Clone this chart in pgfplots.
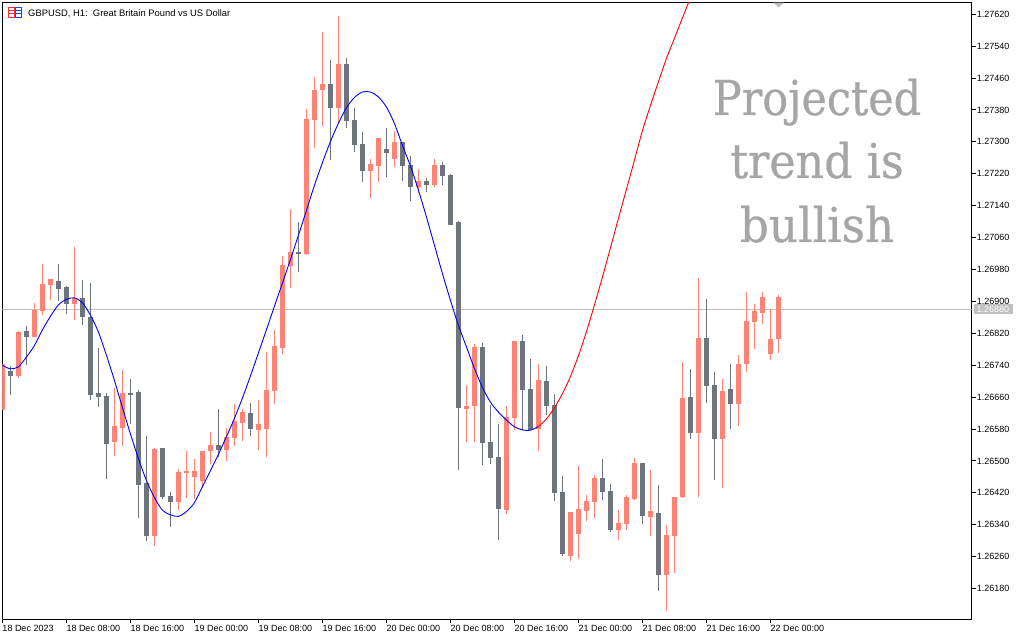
\documentclass[border=0pt]{standalone}
\usepackage{fontspec}
\setmainfont{Liberation Sans}
\newfontfamily\slabfont[FakeBold=0.6]{DejaVu Serif}
\usepackage{pgfplots}
\usepackage{pgfplotstable}
\pgfplotsset{compat=1.18}
\definecolor{upc}{HTML}{FF8374}
\definecolor{downc}{HTML}{6C757D}
\definecolor{hl}{HTML}{C0C0C0}
\definecolor{bigt}{HTML}{A6A6A6}
\pgfplotstableread{
i bot top low high
0 1.26628 1.26743 1.26628 1.26743
2 1.26713 1.26823 1.26708 1.26826
4 1.26811 1.26878 1.26811 1.26896
5 1.26876 1.26943 1.26866 1.26994
6 1.26941 1.26956 1.26903 1.26956
9 1.26893 1.26908 1.26853 1.27036
14 1.26547 1.26587 1.26512 1.26683
15 1.26582 1.26670 1.26537 1.26728
19 1.26311 1.26530 1.26286 1.26532
22 1.26397 1.26472 1.26377 1.26480
23 1.26470 1.26474 1.26407 1.26525
24 1.26459 1.26474 1.26404 1.26505
25 1.26449 1.26525 1.26432 1.26525
26 1.26525 1.26540 1.26492 1.26572
28 1.26527 1.26560 1.26500 1.26582
29 1.26557 1.26600 1.26537 1.26642
30 1.26595 1.26622 1.26550 1.26630
32 1.26578 1.26593 1.26527 1.26653
33 1.26580 1.26678 1.26510 1.26773
34 1.26675 1.26788 1.26643 1.26828
35 1.26783 1.26991 1.26768 1.27014
36 1.26989 1.27024 1.26934 1.27132
38 1.27019 1.27358 1.27016 1.27383
39 1.27355 1.27430 1.27285 1.27463
40 1.27430 1.27445 1.27340 1.27576
42 1.27385 1.27496 1.27347 1.27616
46 1.27227 1.27245 1.27160 1.27257
47 1.27240 1.27310 1.27200 1.27310
49 1.27257 1.27300 1.27237 1.27328
52 1.27187 1.27202 1.27172 1.27232
54 1.27192 1.27242 1.27187 1.27257
58 1.26630 1.26637 1.26547 1.26690
59 1.26637 1.26785 1.26547 1.26793
63 1.26377 1.26610 1.26367 1.26637
64 1.26607 1.26800 1.26577 1.26800
67 1.26580 1.26703 1.26525 1.26743
71 1.26261 1.26372 1.26249 1.26372
72 1.26316 1.26379 1.26254 1.26487
73 1.26374 1.26399 1.26349 1.26414
74 1.26397 1.26457 1.26357 1.26464
77 1.26326 1.26344 1.26301 1.26377
78 1.26341 1.26409 1.26326 1.26414
79 1.26405 1.26495 1.26402 1.26507
81 1.26359 1.26375 1.26312 1.26477
83 1.26214 1.26314 1.26124 1.26339
84 1.26312 1.26410 1.26219 1.26410
85 1.26410 1.26658 1.26407 1.26748
87 1.26570 1.26808 1.26410 1.26959
90 1.26555 1.26675 1.26432 1.26706
92 1.26643 1.26743 1.26588 1.26766
93 1.26743 1.26851 1.26723 1.26924
94 1.26849 1.26876 1.26781 1.26894
95 1.26871 1.26911 1.26844 1.26924
96 1.26768 1.26806 1.26753 1.26881
97 1.26806 1.26911 1.26771 1.26916
}\upcandles
\pgfplotstableread{
i bot top low high
1 1.26713 1.26725 1.26665 1.26738
3 1.26811 1.26826 1.26740 1.26838
7 1.26931 1.26951 1.26901 1.26994
8 1.26893 1.26936 1.26868 1.26938
10 1.26861 1.26908 1.26841 1.26953
11 1.26665 1.26861 1.26653 1.26946
12 1.26660 1.26670 1.26635 1.26783
13 1.26542 1.26663 1.26454 1.26670
16 1.26665 1.26670 1.26592 1.26705
17 1.26439 1.26673 1.26357 1.26678
18 1.26311 1.26444 1.26299 1.26562
20 1.26409 1.26532 1.26404 1.26532
21 1.26397 1.26412 1.26334 1.26422
27 1.26527 1.26540 1.26510 1.26630
31 1.26580 1.26620 1.26563 1.26645
37 1.27019 1.27024 1.26974 1.27099
41 1.27385 1.27445 1.27255 1.27506
43 1.27353 1.27496 1.27335 1.27511
44 1.27292 1.27355 1.27275 1.27385
45 1.27227 1.27295 1.27200 1.27325
48 1.27272 1.27282 1.27212 1.27335
50 1.27240 1.27300 1.27202 1.27300
51 1.27187 1.27242 1.27152 1.27265
53 1.27192 1.27202 1.27175 1.27210
55 1.27215 1.27242 1.27192 1.27250
56 1.27092 1.27217 1.27092 1.27220
57 1.26632 1.27099 1.26477 1.27101
60 1.26545 1.26785 1.26489 1.26795
61 1.26507 1.26547 1.26492 1.26640
62 1.26379 1.26509 1.26301 1.26592
65 1.26677 1.26800 1.26577 1.26815
66 1.26577 1.26680 1.26577 1.26755
68 1.26637 1.26700 1.26615 1.26738
69 1.26419 1.26640 1.26399 1.26667
70 1.26266 1.26422 1.26261 1.26462
75 1.26422 1.26457 1.26402 1.26504
76 1.26326 1.26424 1.26321 1.26442
80 1.26362 1.26495 1.26342 1.26495
82 1.26214 1.26370 1.26174 1.26440
86 1.26570 1.26660 1.26555 1.26731
88 1.26688 1.26808 1.26645 1.26906
89 1.26555 1.26691 1.26452 1.26723
91 1.26643 1.26680 1.26580 1.26743
}\downcandles
\pgfplotstableread{
i p
0 1.26740
1 1.26731
2 1.26736
3 1.26760
4 1.26789
5 1.26828
6 1.26862
7 1.26891
8 1.26905
9 1.26909
10 1.26897
11 1.26866
12 1.26824
13 1.26766
14 1.26703
15 1.26635
16 1.26569
17 1.26507
18 1.26452
19 1.26409
20 1.26377
21 1.26365
22 1.26361
23 1.26373
24 1.26395
25 1.26435
26 1.26475
27 1.26516
28 1.26560
29 1.26606
30 1.26657
31 1.26712
32 1.26770
33 1.26828
34 1.26887
35 1.26945
36 1.27004
37 1.27065
38 1.27127
39 1.27190
40 1.27247
41 1.27300
42 1.27346
43 1.27385
44 1.27411
45 1.27425
46 1.27425
47 1.27413
48 1.27388
49 1.27347
50 1.27292
51 1.27240
52 1.27180
53 1.27113
54 1.27042
55 1.26971
56 1.26904
57 1.26841
58 1.26787
59 1.26733
60 1.26685
61 1.26648
62 1.26623
63 1.26603
64 1.26586
65 1.26578
66 1.26577
67 1.26586
}\bluecurve
\pgfplotstableread{
i p
67 1.26586
68 1.26605
69 1.26633
70 1.26668
71 1.26711
72 1.26763
73 1.26823
74 1.26890
75 1.26960
76 1.27033
77 1.27107
78 1.27180
79 1.27253
80 1.27327
81 1.27390
82 1.27450
83 1.27508
84 1.27559
85 1.27610
86 1.27660
}\redcurve
\begin{document}
\begin{tikzpicture}
\useasboundingbox (0,0) rectangle (1024pt,640pt);
\begin{axis}[
  at={(2.3pt,20.7pt)},anchor=south west,
  scale only axis,width=969.4pt,height=617pt,
  xmin=0,xmax=121.175,ymin=1.26103,ymax=1.27650,
  axis line style={line width=1pt,black},
  tick align=outside,major tick length=4pt,
  every tick/.style={black,line width=1pt},
  xtick pos=bottom,ytick pos=right,
  yticklabel pos=right,
  tick label style={font=\fontsize{9}{9}\selectfont},
  xtick={0,8,16,24,32,40,48,56,64,72,80,88,96},
  xticklabels={18 Dec 2023,18 Dec 08:00,18 Dec 16:00,19 Dec 00:00,19 Dec 08:00,19 Dec 16:00,20 Dec 00:00,20 Dec 08:00,20 Dec 16:00,21 Dec 00:00,21 Dec 08:00,21 Dec 16:00,22 Dec 00:00},
  xticklabel style={anchor=north west,inner sep=0pt,yshift=-2pt},
  ytick={1.2618,1.2626,1.2634,1.2642,1.2650,1.2658,1.2666,1.2674,1.2682,1.2690,1.2698,1.2706,1.2714,1.2722,1.2730,1.2738,1.2746,1.2754,1.2762},
  yticklabels={1.26180,1.26260,1.26340,1.26420,1.26500,1.26580,1.26660,1.26740,1.26820,1.26900,1.26980,1.27060,1.27140,1.27220,1.27300,1.27380,1.27460,1.27540,1.27620},
  yticklabel style={anchor=west,inner sep=0pt,xshift=1pt},
  cndl/.style={draw=none,mark=none,forget plot},
]
\addplot[hl,line width=1pt,forget plot] coordinates {(0,1.26880) (121.175,1.26880)};
% wicks
\addplot[cndl,error bars/.cd,y dir=plus,y explicit,error mark=none,error bar style={line width=1pt,upc}]
  table[x=i,y=low,y error plus expr=\thisrow{high}-\thisrow{low}] {\upcandles};
\addplot[cndl,error bars/.cd,y dir=plus,y explicit,error mark=none,error bar style={line width=1pt,downc}]
  table[x=i,y=low,y error plus expr=\thisrow{high}-\thisrow{low}] {\downcandles};
% bodies
\addplot[cndl,error bars/.cd,y dir=plus,y explicit,error mark=none,error bar style={line width=5pt,upc}]
  table[x=i,y=bot,y error plus expr=\thisrow{top}-\thisrow{bot}] {\upcandles};
\addplot[cndl,error bars/.cd,y dir=plus,y explicit,error mark=none,error bar style={line width=5pt,downc}]
  table[x=i,y=bot,y error plus expr=\thisrow{top}-\thisrow{bot}] {\downcandles};
% projection
\addplot[blue,line width=0.9pt,smooth,tension=0.5,mark=none] table[x=i,y=p] {\bluecurve};
\addplot[red,line width=0.9pt,smooth,tension=0.5,mark=none] table[x=i,y=p] {\redcurve};
\end{axis}
% price label and last-bar marker
\fill[hl] (974pt,325.7pt) rectangle (1013.3pt,335.7pt);
\node[anchor=west,inner sep=0pt,text=white,font=\fontsize{9}{9}\selectfont] at (976.5pt,330.7pt) {1.26880};
\fill[hl] (773.3pt,637.3pt) -- (784pt,637.3pt) -- (778.6pt,632.5pt) -- cycle;
% title and icon
\fill[white] (7pt,622pt) rectangle (23pt,634pt);
\draw[red!80!white,line width=1pt] (8pt,622.5pt) rectangle (14.5pt,632.5pt);
\draw[red!80!white,line width=1pt] (8pt,629.2pt) -- (14.5pt,629.2pt) (8pt,626pt) -- (14.5pt,626pt);
\draw[blue!70!cyan,line width=1pt] (15pt,622.5pt) rectangle (21.5pt,632.5pt);
\draw[blue!70!cyan,line width=1pt] (15pt,629.2pt) -- (21.5pt,629.2pt) (15pt,626pt) -- (21.5pt,626pt);
\node[anchor=base west,inner sep=0pt,font=\fontsize{9.4}{9.4}\selectfont] at (28pt,623pt) {GBPUSD, H1:\ \ Great Britain Pound vs US Dollar};
% projected-trend caption
\node[anchor=base,inner sep=0pt,text=bigt,font=\slabfont\fontsize{48}{48}\selectfont] at (817pt,525pt) {\scalebox{0.895}[1]{Projected}};
\node[anchor=base,inner sep=0pt,text=bigt,font=\slabfont\fontsize{48}{48}\selectfont] at (817pt,462pt) {\scalebox{0.925}[1]{trend is}};
\node[anchor=base,inner sep=0pt,text=bigt,font=\slabfont\fontsize{48}{48}\selectfont] at (817pt,398pt) {\scalebox{0.945}[1]{bullish}};
\end{tikzpicture}
\end{document}
